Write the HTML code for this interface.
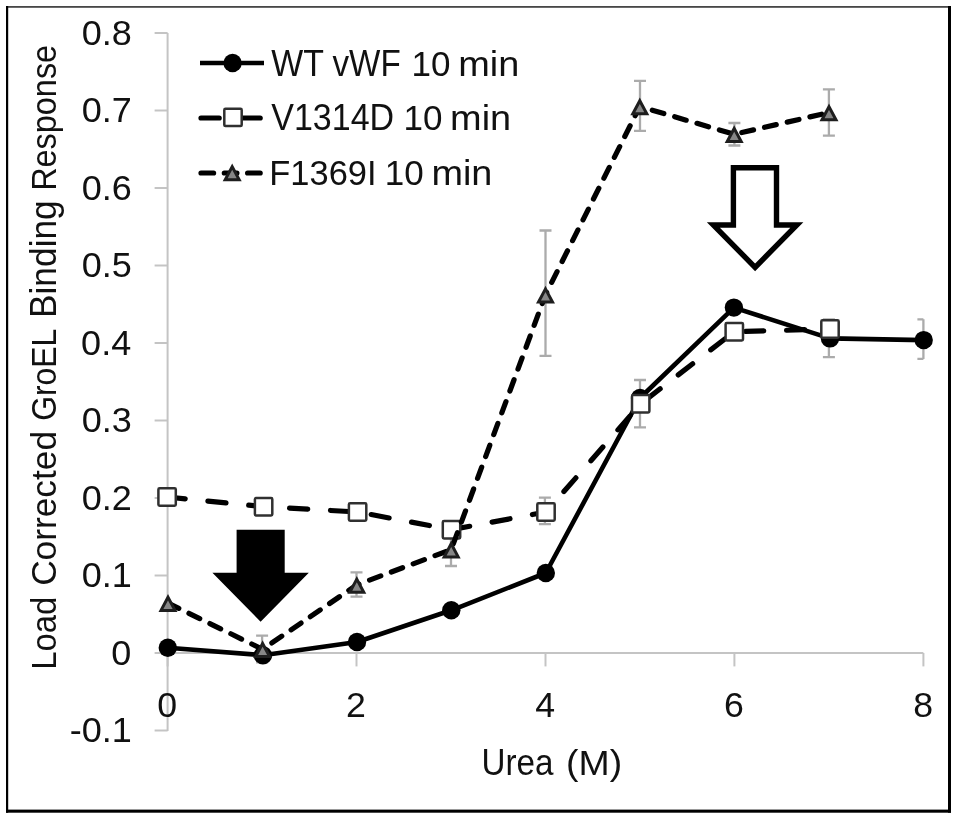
<!DOCTYPE html>
<html><head><meta charset="utf-8"><title>Urea GroEL binding chart</title>
<style>html,body{margin:0;padding:0;background:#fff}svg{display:block}text{font-family:"Liberation Sans",Arial,sans-serif;fill:#111}</style></head><body>
<svg width="957" height="819" viewBox="0 0 957 819">
<rect width="957" height="819" fill="#fff"/>
<rect x="6" y="6" width="945" height="1.8" fill="#474747"/>
<rect x="6" y="6" width="2.2" height="806.7" fill="#000"/>
<rect x="948" y="6" width="3" height="806.7" fill="#000"/>
<rect x="6" y="809.6" width="945" height="3.1" fill="#000"/>
<g stroke="#c4c4c4" stroke-width="2" fill="none">
<path d="M167.6 33 V731"/>
<path d="M167.6 653.0 H923.36"/>
<path d="M154.6 730.5 H167.6"/>
<path d="M154.6 653.0 H167.6"/>
<path d="M154.6 575.5 H167.6"/>
<path d="M154.6 498.0 H167.6"/>
<path d="M154.6 420.5 H167.6"/>
<path d="M154.6 343.0 H167.6"/>
<path d="M154.6 265.5 H167.6"/>
<path d="M154.6 188.0 H167.6"/>
<path d="M154.6 110.5 H167.6"/>
<path d="M154.6 33.0 H167.6"/>
<path d="M167.6 653.0 V666.4"/>
<path d="M356.5 653.0 V666.4"/>
<path d="M545.5 653.0 V666.4"/>
<path d="M734.4 653.0 V666.4"/>
<path d="M923.4 653.0 V666.4"/>
</g>
<text transform="translate(70.76821289062501 742.4) scale(1.0300 1)" x="-1.09" y="0" font-size="35">-0.1</text>
<text transform="translate(112.275 664.9) scale(1.0300 1)" x="-1.09" y="0" font-size="35">0</text>
<text transform="translate(82.77314453125001 587.4) scale(1.0300 1)" x="-1.09" y="0" font-size="35">0.1</text>
<text transform="translate(82.77314453125001 509.9) scale(1.0300 1)" x="-1.09" y="0" font-size="35">0.2</text>
<text transform="translate(82.77314453125001 432.4) scale(1.0300 1)" x="-1.09" y="0" font-size="35">0.3</text>
<text transform="translate(82.20986328125001 354.9) scale(1.0300 1)" x="-1.09" y="0" font-size="35">0.4</text>
<text transform="translate(82.77314453125001 277.4) scale(1.0300 1)" x="-1.09" y="0" font-size="35">0.5</text>
<text transform="translate(82.77314453125001 199.9) scale(1.0300 1)" x="-1.09" y="0" font-size="35">0.6</text>
<text transform="translate(82.77314453125001 122.4) scale(1.0300 1)" x="-1.09" y="0" font-size="35">0.7</text>
<text transform="translate(82.77314453125001 44.9) scale(1.0300 1)" x="-1.09" y="0" font-size="35">0.8</text>
<text transform="translate(158.27499999999998 716.8) scale(1.0200 1)" x="-1.09" y="0" font-size="35">0</text>
<text transform="translate(347.7728125 716.8) scale(1.0200 1)" x="-1.64" y="0" font-size="35">2</text>
<text transform="translate(535.87609375 716.8) scale(1.0200 1)" x="-0.55" y="0" font-size="35">4</text>
<text transform="translate(725.6528125 716.8) scale(1.0200 1)" x="-1.64" y="0" font-size="35">6</text>
<text transform="translate(914.3139062500001 716.8) scale(1.0200 1)" x="-1.09" y="0" font-size="35">8</text>
<text transform="translate(483.5 775.3) scale(0.9223 1)" x="-2.25" y="0" font-size="36.0">Urea</text>
<text transform="translate(567.8 775.3) scale(1.0394 1)" x="-1.69" y="0" font-size="36.0">(M)</text>
<text transform="translate(56.3 667.3) rotate(-90) scale(0.9116 1)" x="-2.81" y="0" font-size="36.0">Load</text>
<text transform="translate(56.3 584.2) rotate(-90) scale(0.9802 1)" x="-1.69" y="0" font-size="36.0">Corrected</text>
<text transform="translate(56.3 419.3) rotate(-90) scale(0.8851 1)" x="-1.69" y="0" font-size="36.0">GroEL</text>
<text transform="translate(56.3 315.3) rotate(-90) scale(0.9813 1)" x="-2.81" y="0" font-size="36.0">Binding</text>
<text transform="translate(56.3 188.3) rotate(-90) scale(0.9003 1)" x="-2.81" y="0" font-size="36.0">Response</text>
<g stroke="#ababab" stroke-width="2.3" fill="none">
<path d="M828.9 319.3 V357.2 M822.9 319.3 H834.9 M822.9 357.2 H834.9"/>
<path d="M923.4 319.3 V358.9 M917.4 319.3 H923.4 M917.4 358.9 H923.4"/>
<path d="M544.9 497.6 V524.2 M538.9 497.6 H550.9 M538.9 524.2 H550.9"/>
<path d="M640.0 380 V427.3 M634.0 380 H646.0 M634.0 427.3 H646.0"/>
<path d="M262.1 635.7 V662.3 M256.1 635.7 H268.1 M256.1 662.3 H268.1"/>
<path d="M356.5 572.3 V596.7 M350.5 572.3 H362.5 M350.5 596.7 H362.5"/>
<path d="M451.0 533 V566 M445.0 533 H457.0 M445.0 566 H457.0"/>
<path d="M545.5 230.5 V355.8 M539.5 230.5 H551.5 M539.5 355.8 H551.5"/>
<path d="M640.0 80.8 V130.8 M634.0 80.8 H646.0 M634.0 130.8 H646.0"/>
<path d="M734.4 123 V145.5 M728.4 123 H740.4 M728.4 145.5 H740.4"/>
<path d="M828.9 89.3 V135.7 M822.9 89.3 H834.9 M822.9 135.7 H834.9"/>
</g>
<polyline points="167.8,647.8 262.9,655.2 357.0,642 451.3,610.3 545.8,573 640.0,398 733.9,307.6 830.0,338.4 923.7,340.1" fill="none" stroke="#000" stroke-width="4.6" stroke-linejoin="round"/>
<circle cx="167.8" cy="647.8" r="9.2" fill="#000"/>
<circle cx="262.9" cy="655.2" r="9.2" fill="#000"/>
<circle cx="357.0" cy="642" r="9.2" fill="#000"/>
<circle cx="451.3" cy="610.3" r="9.2" fill="#000"/>
<circle cx="545.8" cy="573" r="9.2" fill="#000"/>
<circle cx="640.0" cy="398" r="9.2" fill="#000"/>
<circle cx="733.9" cy="307.6" r="9.2" fill="#000"/>
<circle cx="830.0" cy="338.4" r="9.2" fill="#000"/>
<circle cx="923.7" cy="340.1" r="9.2" fill="#000"/>
<polyline points="167.1,497 263.6,506.7 357.6,512 451.5,529.7 546.0,512 640.7,403.8 734.3,331.7 830.0,329" fill="none" stroke="#000" stroke-width="5.2" stroke-linejoin="round" stroke-linecap="round" stroke-dasharray="18.2 22.8"/>
<rect x="158.4" y="488.3" width="17.4" height="17.4" rx="1.2" fill="#fff" stroke="#303030" stroke-width="2.5"/>
<rect x="254.9" y="498.0" width="17.4" height="17.4" rx="1.2" fill="#fff" stroke="#303030" stroke-width="2.5"/>
<rect x="348.9" y="503.3" width="17.4" height="17.4" rx="1.2" fill="#fff" stroke="#303030" stroke-width="2.5"/>
<rect x="442.8" y="521.0" width="17.4" height="17.4" rx="1.2" fill="#fff" stroke="#303030" stroke-width="2.5"/>
<rect x="537.3" y="503.3" width="17.4" height="17.4" rx="1.2" fill="#fff" stroke="#303030" stroke-width="2.5"/>
<rect x="632.0" y="395.1" width="17.4" height="17.4" rx="1.2" fill="#fff" stroke="#303030" stroke-width="2.5"/>
<rect x="725.6" y="323.0" width="17.4" height="17.4" rx="1.2" fill="#fff" stroke="#303030" stroke-width="2.5"/>
<rect x="821.3" y="320.3" width="17.4" height="17.4" rx="1.2" fill="#fff" stroke="#303030" stroke-width="2.5"/>
<polyline points="168.0,603.1 262.6,649.3 356.8,584.9 451.2,549.6 545.5,294.7 639.8,106.5 734.2,134.3 829.0,112.5" fill="none" stroke="#000" stroke-width="5.2" stroke-linejoin="round" stroke-linecap="round" stroke-dasharray="12 11.3"/>
<path d="M168.0 597.3 L175.0 610.4 H161.0 Z" fill="#868686" stroke="#1e1e1e" stroke-width="3" stroke-linejoin="miter"/>
<path d="M262.6 643.5 L269.6 656.6 H255.6 Z" fill="#868686" stroke="#1e1e1e" stroke-width="3" stroke-linejoin="miter"/>
<path d="M356.8 579.1 L363.8 592.2 H349.8 Z" fill="#868686" stroke="#1e1e1e" stroke-width="3" stroke-linejoin="miter"/>
<path d="M451.2 543.8 L458.2 556.9 H444.2 Z" fill="#868686" stroke="#1e1e1e" stroke-width="3" stroke-linejoin="miter"/>
<path d="M545.5 288.9 L552.5 302.0 H538.5 Z" fill="#868686" stroke="#1e1e1e" stroke-width="3" stroke-linejoin="miter"/>
<path d="M639.8 100.7 L646.8 113.8 H632.8 Z" fill="#868686" stroke="#1e1e1e" stroke-width="3" stroke-linejoin="miter"/>
<path d="M734.2 128.5 L741.2 141.6 H727.2 Z" fill="#868686" stroke="#1e1e1e" stroke-width="3" stroke-linejoin="miter"/>
<path d="M829.0 106.7 L836.0 119.8 H822.0 Z" fill="#868686" stroke="#1e1e1e" stroke-width="3" stroke-linejoin="miter"/>
<path d="M236.6 529.8 H284.7 V572.8 H308.8 L260.6 621.8 L212.4 572.8 H236.6 Z" fill="#000"/>
<path d="M733.4 167.7 H776.5 V225 H796.9 L755.1 267.3 L713.3 225 H733.4 Z" fill="#fff" stroke="#000" stroke-width="5.4" stroke-linejoin="miter"/>
<path d="M200 63 H264" stroke="#000" stroke-width="4.6"/><circle cx="232.6" cy="63" r="9.2" fill="#000"/>
<path d="M201 118 H265" stroke="#000" stroke-width="5.2" stroke-linecap="round" stroke-dasharray="18.2 22.8"/><rect x="224.3" y="108.7" width="17.4" height="17.4" rx="1.2" fill="#fff" stroke="#303030" stroke-width="2.5"/>
<path d="M201 173 H266" stroke="#000" stroke-width="5.2" stroke-linecap="round" stroke-dasharray="12.6 10.7"/><path d="M232.2 166.6 L239.2 179.7 H225.2 Z" fill="#868686" stroke="#1e1e1e" stroke-width="3" stroke-linejoin="miter"/>
<text transform="translate(271.2 75.6) scale(0.9412 1)" x="0.00" y="0" font-size="36.0">WT</text>
<text transform="translate(332.5 75.6) scale(0.9218 1)" x="0.00" y="0" font-size="36.0">vWF</text>
<text transform="translate(413.8 75.6) scale(0.9730 1)" x="-2.25" y="0" font-size="36.0">10</text>
<text transform="translate(460.5 75.6) scale(1.0533 1)" x="-2.25" y="0" font-size="36.0">min</text>
<text transform="translate(271.3 130.0) scale(0.9445 1)" x="0.00" y="0" font-size="36.0">V1314D</text>
<text transform="translate(405.7 130.0) scale(0.9730 1)" x="-2.25" y="0" font-size="36.0">10</text>
<text transform="translate(452.4 130.0) scale(1.0533 1)" x="-2.25" y="0" font-size="36.0">min</text>
<text transform="translate(272.0 184.6) scale(0.9574 1)" x="-2.81" y="0" font-size="36.0">F1369I</text>
<text transform="translate(387.0 184.6) scale(0.9730 1)" x="-2.25" y="0" font-size="36.0">10</text>
<text transform="translate(433.8 184.6) scale(1.0514 1)" x="-2.25" y="0" font-size="36.0">min</text>
</svg></body></html>
